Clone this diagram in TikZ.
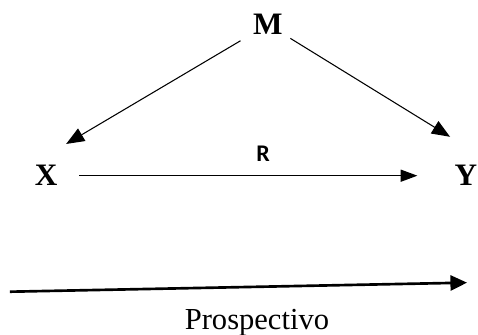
\documentclass[tikz,border=0pt]{standalone}
\usepackage{fontspec}
\setmainfont{Liberation Serif}
\newfontfamily\labelfont{Carlito}
\usepackage{xcolor}
\usepackage{tikz}
\usetikzlibrary{arrows.meta,positioning}
\tikzset{
  dag diagram/.style={font=\fontsize{23}{27}\selectfont, text=black,
    line join=miter},
  dag var/.style={font=\fontsize{23.5}{27}\selectfont\bfseries, inner sep=2pt,
    anchor=base},
  dag label/.style={font=\labelfont\fontsize{18}{20}\selectfont\bfseries,
    anchor=base},
  dag arrow/.style={-{Triangle[length=4.8mm,width=3.8mm]}, draw=black,
    line width=0.8pt},
  dag path arrow/.style={-{Triangle[length=4.4mm,width=3.2mm]}, draw=black,
    line width=0.8pt},
  dag time/.style={-{Triangle[length=4.4mm,width=4mm]}, draw=black,
    line width=2pt}
}
\begin{document}
\begin{tikzpicture}[dag diagram]
\useasboundingbox (0,0) rectangle (12.65,8.86);
\node[dag var] (M) at (7.09,7.94) {M};
\node[dag var] (X) at (1.22,3.94) {X};
\node[dag var] (Y) at (12.33,3.94) {Y};
\node[dag label] (R) at (6.96,4.58) {R};
\node[anchor=base] (P) at (6.80,0.13) {Prospectivo};
\coordinate (mx tip) at (1.75,5.05);
\coordinate (my tip) at (11.91,5.24);
\coordinate (time start) at (0.26,1.14);
\coordinate (time end) at (12.36,1.38);
\draw[dag arrow, shorten <=0.3cm] (M) -- (mx tip);
\draw[dag arrow, shorten <=0.15cm] (M) -- (my tip);
\draw[dag path arrow, shorten <=0.5cm, shorten >=0.91cm] (X) -- (Y);
\draw[dag time] (time start) -- (time end);
\end{tikzpicture}
\end{document}
